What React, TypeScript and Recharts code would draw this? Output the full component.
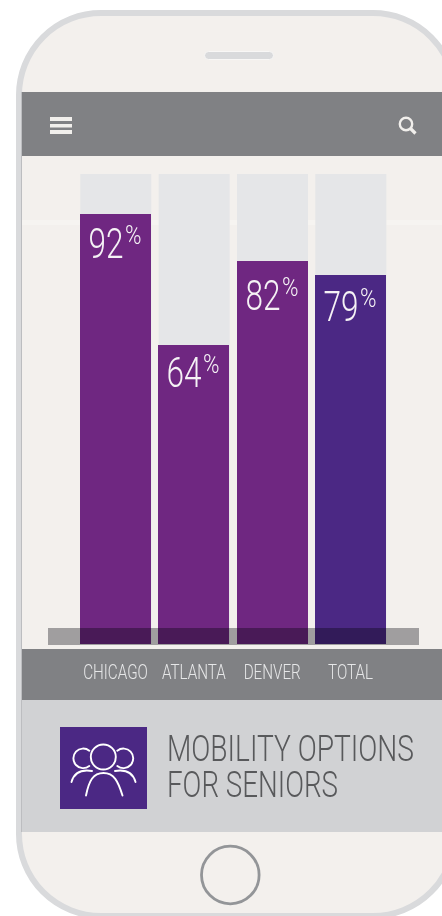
import React from "react";
import { BarChart, Bar, XAxis, YAxis, LabelList } from "recharts";

const categories = ["CHICAGO", "ATLANTA", "DENVER", "TOTAL"];
const shares = [92, 64, 82, 79];
const barColors = ["#6f2781", "#6f2781", "#6f2781", "#4b2884"];
const titleLines = ["MOBILITY OPTIONS", "FOR SENIORS"];

const data = categories.map((name, i) => ({ name, value: shares[i], color: barColors[i] }));

const FONT = "Roboto, 'Liberation Sans', sans-serif";

// How far each hand-placed value label sits below the top of its bar.
const labelDrop: Record<number, number> = { 92: 43.5, 64: 42.5, 82: 49, 79: 46 };

const box = (left: number, top: number, width: number, height: number, background: string): React.CSSProperties => ({
  position: "absolute", left, top, width, height, background,
});

const Tick = (props: any) => {
  const { x, y, payload } = props;
  return (
    <text transform={`translate(${x},${y + 29}) scale(0.78,1)`} textAnchor="middle" fontFamily={FONT} fontWeight={300} fontSize={19.5} fill="#e6e7e8">
      {payload.value}
    </text>
  );
};

const ValueLabel = (props: any) => {
  const { x, y, value } = props;
  return (
    <g transform={`translate(${Math.floor(x) + 8.5},${y + labelDrop[value]})`} fontFamily={FONT} fontWeight={300} fill="#f5f2f5">
      <text fontSize={42} textLength={35} lengthAdjust="spacingAndGlyphs">{value}</text>
      <text x={36.5} y={-14} fontSize={25} textLength={16.5} lengthAdjust="spacingAndGlyphs">%</text>
    </g>
  );
};

export default function App() {
  return (
    <div style={{ position: "fixed", left: 0, top: 0, width: 442, height: 916, overflow: "hidden", background: "#fff" }}>
      <div style={{ position: "absolute", left: 16, top: 10, width: 442, height: 909, boxSizing: "border-box", border: "6px solid #d9dadc", borderRadius: 85, background: "#f3f0ed" }} />
      <div style={box(22, 220, 420, 5, "#f6f4f1")} />
      <div style={{ ...box(204, 51, 70, 9, "#d9dadc"), borderRadius: 5, border: "1px solid #f8f7f6", boxSizing: "border-box" }} />
      <div style={box(22, 92, 420, 64, "#808184")} />
      <div style={box(22, 649, 420, 51, "#808184")} />
      <div style={box(22, 700, 420, 132, "#d1d2d4")} />
      <div style={box(21, 92, 1, 740, "#bcbdc0")} />
      <div style={box(60, 727, 87, 82, "#4b2884")} />

      <svg width={442} height={916} style={{ position: "absolute", left: 0, top: 0 }}>
        <g fill="#f1efec">
          <rect x={50} y={117} width={22} height={4} />
          <rect x={50} y={124} width={22} height={3.5} />
          <rect x={50} y={130} width={22} height={4} />
        </g>
        <circle cx={406} cy={124} r={6.2} fill="none" stroke="#f1efec" strokeWidth={2.4} />
        <line x1={410.5} y1={128.5} x2={415.5} y2={133.5} stroke="#f1efec" strokeWidth={3.2} />
        <circle cx={230.3} cy={875} r={28.8} fill="none" stroke="#939598" strokeWidth={2.8} />
        <g fill="none" stroke="#fff" strokeWidth={1.9} strokeLinecap="round">
          <circle cx={103.3} cy={757} r={12.5} />
          <path d="M89.3 750.7 A9.8 9.8 0 1 0 89.3 766" />
          <path d="M117.3 750.7 A9.8 9.8 0 1 1 117.3 766" />
          <path d="M86 795.5 C89 781 93 773 103.5 773 C114 773 118 781 122.5 795.5" />
          <path d="M71.5 782 C74 773 80 769 92 771" />
          <path d="M135.5 782 C133 773 127 769 115 771" />
        </g>
        <g fontFamily={FONT} fontWeight={300} fontSize={36} fill="#58595b">
          <text x={167} y={761} textLength={247} lengthAdjust="spacingAndGlyphs">{titleLines[0]}</text>
          <text x={167} y={797} textLength={171} lengthAdjust="spacingAndGlyphs">{titleLines[1]}</text>
        </g>
      </svg>

      <div style={{ position: "absolute", left: 0, top: 0 }}>
        <BarChart width={442} height={916} data={data} barSize={71} barCategoryGap={0}
          margin={{ top: 174, right: 52.33, bottom: 216, left: 76.33 }}>
          <XAxis dataKey="name" axisLine={false} tickLine={false} height={56} interval={0} tick={<Tick />} tickMargin={0} />
          <YAxis hide domain={[0, 100.6]} />
          <Bar dataKey="value" isAnimationActive={false} background={{ fill: "#e5e6e8" }}
            shape={(p: any) => <rect x={Math.floor(p.x)} y={p.y} width={71} height={p.height} fill={p.payload.color} shapeRendering="crispEdges" />}>
            <LabelList dataKey="value" content={<ValueLabel />} />
          </Bar>
        </BarChart>
      </div>

      <div style={{ ...box(48, 628, 371, 17, "#a8a8ab"), mixBlendMode: "multiply" }} />
    </div>
  );
}
